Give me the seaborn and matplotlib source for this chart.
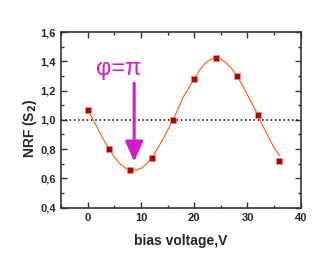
import numpy as np
import pandas as pd
import matplotlib
matplotlib.use("Agg")
import matplotlib.pyplot as plt
import seaborn as sns
from matplotlib.ticker import MultipleLocator, FuncFormatter

# measured points
bias = [0, 4, 8, 12, 16, 20, 24, 28, 32, 36]
nrf = [1.07, 0.80, 0.66, 0.74, 1.00, 1.28, 1.42, 1.30, 1.03, 0.72]

# fitted curve, every 1 V
fit_bias = list(range(0, 37))
fit_nrf = [1.07, 1.00, 0.93, 0.86, 0.80, 0.745, 0.70, 0.672, 0.658, 0.656,
           0.668, 0.698, 0.742, 0.80, 0.86, 0.93, 1.00, 1.08, 1.16, 1.22,
           1.28, 1.34, 1.385, 1.412, 1.422, 1.415, 1.39, 1.35, 1.30, 1.24,
           1.17, 1.10, 1.03, 0.95, 0.88, 0.81, 0.755]

sns.set_style("ticks")
plt.rcParams["font.family"] = ["Liberation Sans", "DejaVu Sans"]

df = pd.DataFrame({"bias": bias, "nrf": nrf})
df_fit = pd.DataFrame({"bias": fit_bias, "nrf": fit_nrf})

fig = plt.figure(figsize=(3.32, 2.69), dpi=100)
ax = fig.add_axes([0.1846, 0.228, 0.7211, 0.653])

ax.axhline(1.0, color="black", lw=1.1, ls=(0, (1, 1.8)), zorder=1)
sns.lineplot(data=df_fit, x="bias", y="nrf", ax=ax, color="#ff6a1f", lw=0.9, zorder=2)
sns.lineplot(data=df, x="bias", y="nrf", ax=ax, lw=0, marker="s", markersize=5,
             markerfacecolor="#b00000", markeredgecolor="#e09090",
             markeredgewidth=0.5, zorder=3)

ax.annotate("", xy=(8.7, 0.714), xytext=(8.7, 1.25),
            arrowprops=dict(arrowstyle="-|>,head_length=1.22,head_width=0.54",
                            mutation_scale=10, color="#d41cc8", lw=2.2,
                            shrinkA=0, shrinkB=0))
ax.text(5.8, 1.347, "φ=π", color="#d41cc8", fontsize=17,
        ha="center", va="center")

ax.set_xlim(-5, 40)
ax.set_ylim(0.4, 1.6)
ax.xaxis.set_major_locator(MultipleLocator(10))
ax.xaxis.set_minor_locator(MultipleLocator(5))
ax.yaxis.set_major_locator(MultipleLocator(0.2))
ax.yaxis.set_minor_locator(MultipleLocator(0.1))
ax.yaxis.set_major_formatter(FuncFormatter(lambda v, p: f"{v:.1f}".replace(".", ",")))

ax.tick_params(which="both", direction="in", top=True, right=True, color="#333333", width=1)
ax.tick_params(which="major", length=4, labelsize=8, pad=4)
ax.tick_params(which="minor", length=2)
for lbl in ax.get_xticklabels() + ax.get_yticklabels():
    lbl.set_fontweight("bold")
for s in ax.spines.values():
    s.set_color("#333333")
    s.set_linewidth(1.2)

ax.set_xlabel("bias voltage,V", fontsize=10, fontweight="bold")
ax.set_ylabel("NRF (S$_\\mathbf{2}$)", fontsize=10, fontweight="bold")
ax.yaxis.set_label_coords(-0.092, 0.45)
ax.xaxis.set_label_coords(0.5, -0.15)

fig.savefig("out.png", dpi=100)
